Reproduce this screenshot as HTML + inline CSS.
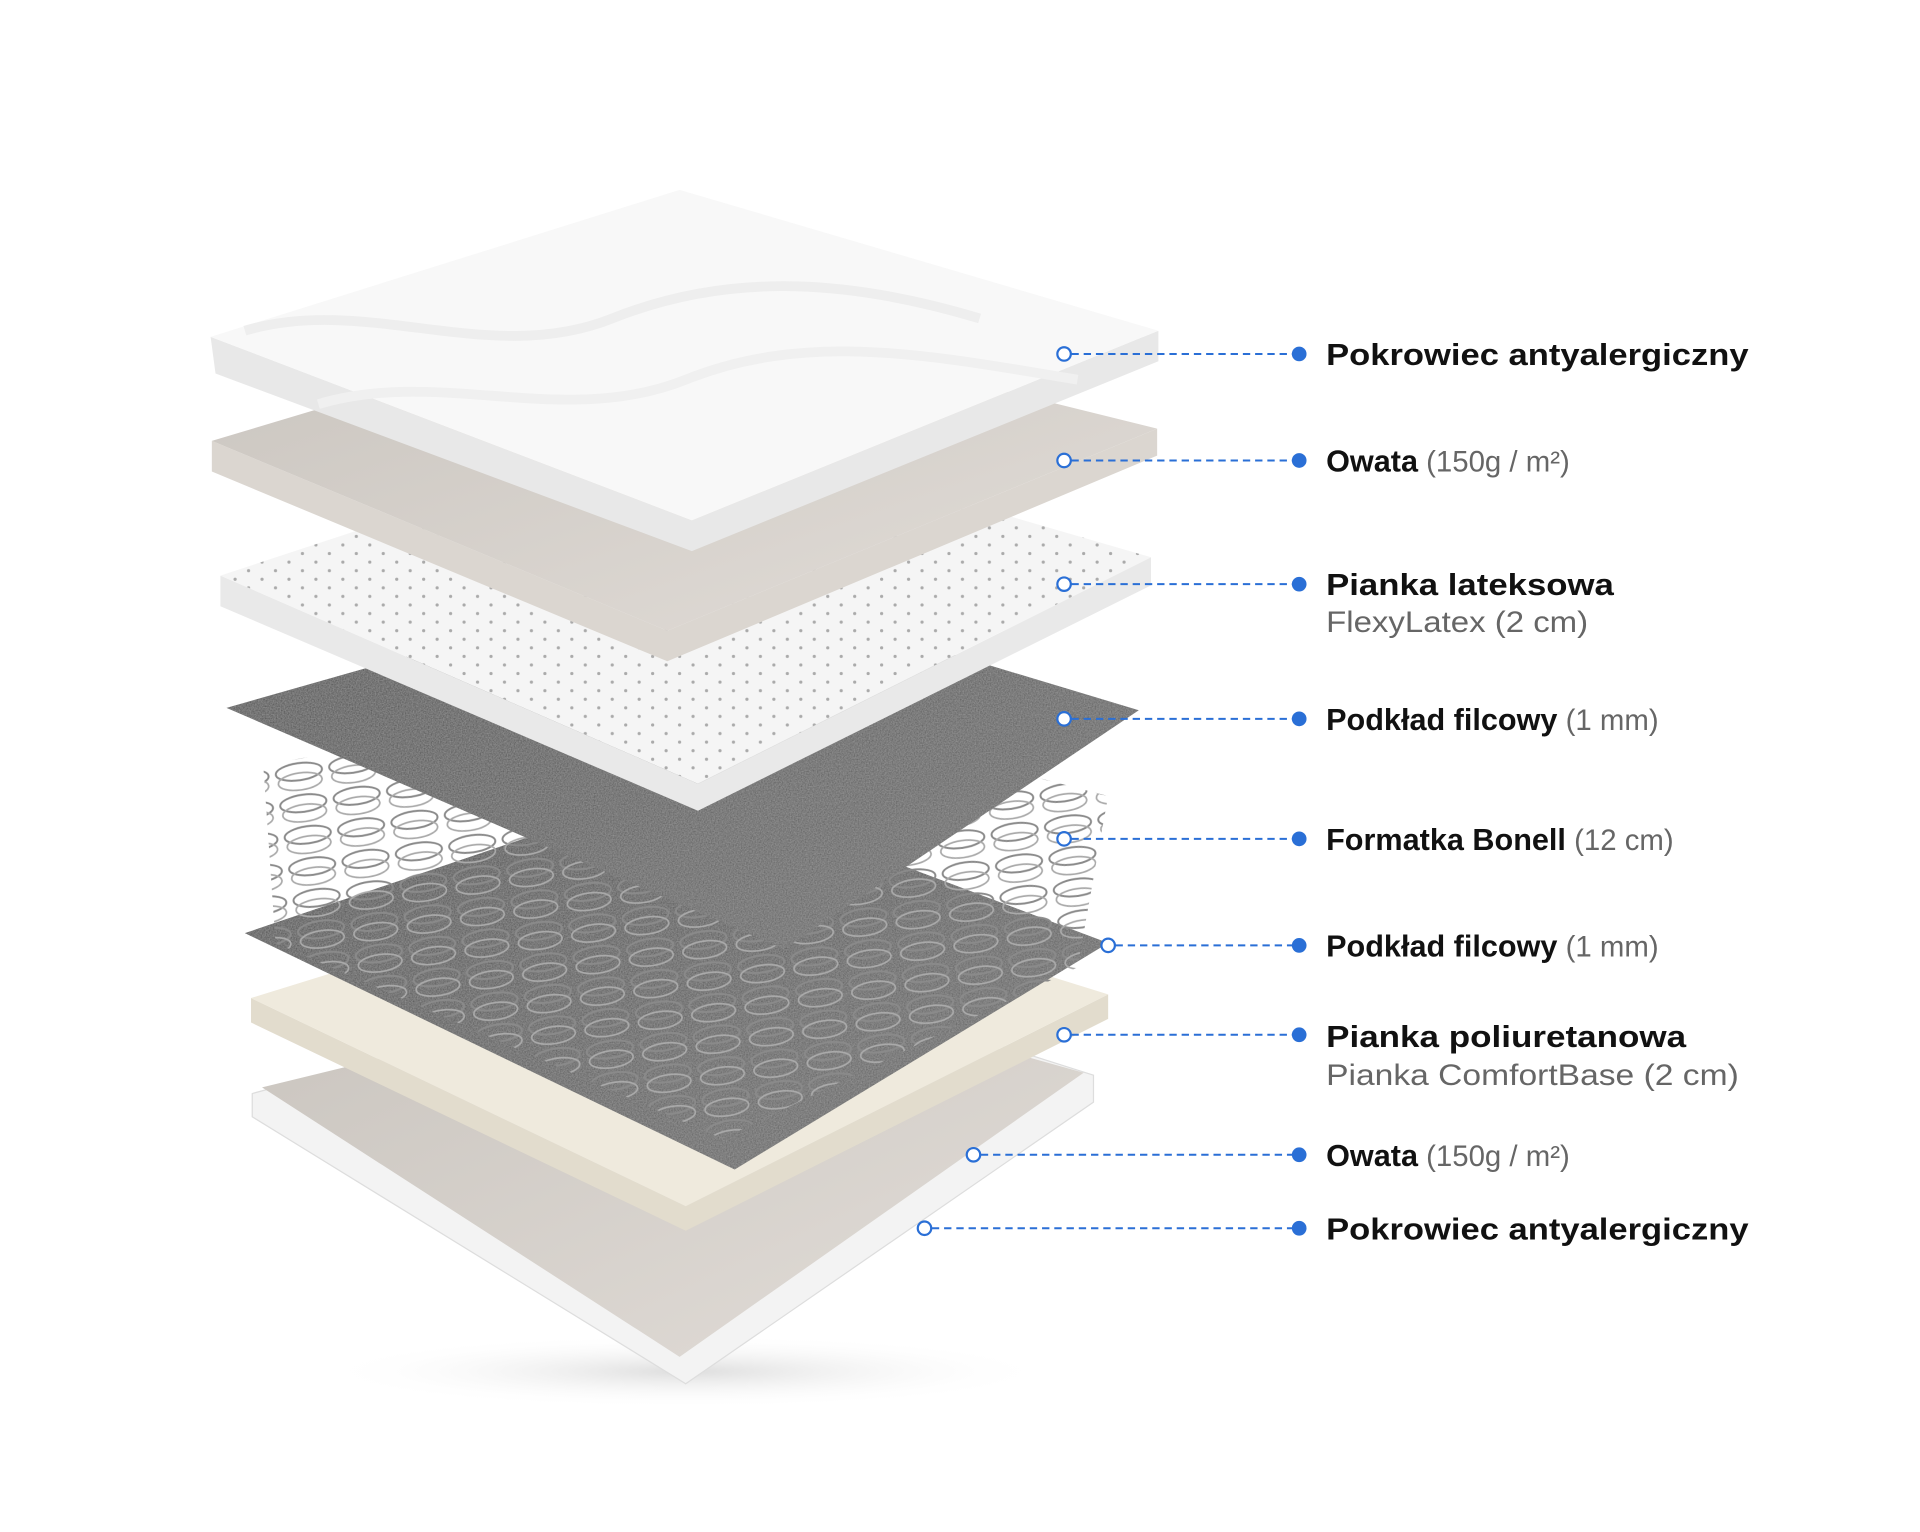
<!DOCTYPE html>
<html><head><meta charset="utf-8"><style>
html,body{margin:0;padding:0;background:#fff;}
svg{display:block;}
.b{font-family:"Liberation Sans",sans-serif;font-weight:bold;font-size:25px;fill:#111;}
.r{font-family:"Liberation Sans",sans-serif;font-size:24px;fill:#666;}
</style></head><body>
<svg width="1920" height="1532" viewBox="0 0 1568 1251" xmlns="http://www.w3.org/2000/svg">
<defs>
<pattern id="dots" width="22" height="14" patternUnits="userSpaceOnUse"><circle cx="5" cy="4" r="1.3" fill="#aaa"/><circle cx="16" cy="11" r="1.3" fill="#aaa"/></pattern>
<pattern id="coil" width="44" height="26" patternUnits="userSpaceOnUse" patternTransform="rotate(-8)">
<ellipse cx="22" cy="8" rx="19" ry="7" fill="none" stroke="#8a8a8a" stroke-width="1.6"/>
<ellipse cx="22" cy="16" rx="18" ry="7" fill="none" stroke="#aaa" stroke-width="1.4"/>
</pattern>
<linearGradient id="felt" x1="0" y1="0" x2="1" y2="1"><stop offset="0" stop-color="#555"/><stop offset="1" stop-color="#727272"/></linearGradient>
<linearGradient id="ow" x1="0" y1="0" x2="1" y2="1"><stop offset="0" stop-color="#c9c4be"/><stop offset="1" stop-color="#e2ddd8"/></linearGradient>
<radialGradient id="sh" cx="0.5" cy="0.5" r="0.5"><stop offset="0" stop-color="#ddd"/><stop offset="1" stop-color="#fff" stop-opacity="0"/></radialGradient>
<filter id="speck" x="0" y="0" width="1" height="1">
<feTurbulence type="fractalNoise" baseFrequency="0.9" numOctaves="2" result="n"/>
<feColorMatrix in="n" type="matrix" values="0 0 0 0 0.5  0 0 0 0 0.5  0 0 0 0 0.5  0 0 0 0.6 -0.1" result="m"/>
<feComposite in="m" in2="SourceGraphic" operator="in" result="c"/>
<feMerge><feMergeNode in="SourceGraphic"/><feMergeNode in="c"/></feMerge>
</filter>
</defs>
<rect width="1568" height="1251" fill="#fff"/>
<ellipse cx="560" cy="1120" rx="300" ry="30" fill="url(#sh)"/>
<!-- bottom cover -->
<polygon points="206,893 600,785 893,878 893,900 560,1130 206,912" fill="#f3f3f3" stroke="#ddd"/>
<polygon points="214,888 595,795 885,876 555,1108" fill="url(#ow)"/>
<!-- PU foam -->
<polygon points="205,835 560,1005 905,832 905,812 560,985 205,815" fill="#e2dccd"/>
<polygon points="205,815 560,705 905,812 560,985" fill="#efeadd"/>
<!-- lower felt -->
<polygon points="200,762 560,640 905,770 600,955" fill="url(#felt)" filter="url(#speck)"/>
<!-- springs -->
<polygon points="215,625 560,560 905,650 880,790 590,930 225,770" fill="url(#coil)"/>
<!-- upper felt -->
<polygon points="185,578 565,470 930,580 640,775" fill="url(#felt)" filter="url(#speck)"/>
<!-- latex -->
<polygon points="180,495 570,662 940,478 940,455 570,640 180,470" fill="#e9e9e9"/>
<polygon points="180,470 560,345 940,455 570,640" fill="#f5f5f5"/>
<polygon points="180,470 560,345 940,455 570,640" fill="url(#dots)"/>
<!-- owata -->
<polygon points="173,385 545,540 945,372 945,350 545,515 173,360" fill="#dbd6d0"/>
<polygon points="173,360 540,250 945,350 545,515" fill="url(#ow)"/>
<!-- top cover -->
<polygon points="176,305 565,450 946,295 946,270 565,425 172,275" fill="#e8e8e8"/>
<polygon points="172,275 555,155 946,270 565,425" fill="#f8f8f8"/>
<path d="M200,270 C300,240 400,300 500,260 S700,230 800,260" fill="none" stroke="#eeeeee" stroke-width="8"/>
<path d="M260,330 C360,300 460,350 560,310 S760,290 880,310" fill="none" stroke="#f0f0f0" stroke-width="8"/>
<!-- connectors -->
<g stroke="#2a6fd6" stroke-width="1.6" stroke-dasharray="6,4" fill="none">
<line x1="875" y1="289" x2="1060" y2="289"/>
<line x1="875" y1="376" x2="1060" y2="376"/>
<line x1="875" y1="477" x2="1060" y2="477"/>
<line x1="875" y1="587" x2="1060" y2="587"/>
<line x1="875" y1="685" x2="1060" y2="685"/>
<line x1="911" y1="772" x2="1060" y2="772"/>
<line x1="875" y1="845" x2="1060" y2="845"/>
<line x1="801" y1="943" x2="1060" y2="943"/>
<line x1="761" y1="1003" x2="1060" y2="1003"/>
</g>
<g fill="#fff" stroke="#2a6fd6" stroke-width="1.8">
<circle cx="869" cy="289" r="5.5"/><circle cx="869" cy="376" r="5.5"/><circle cx="869" cy="477" r="5.5"/>
<circle cx="869" cy="587" r="5.5"/><circle cx="869" cy="685" r="5.5"/><circle cx="905" cy="772" r="5.5"/>
<circle cx="869" cy="845" r="5.5"/><circle cx="795" cy="943" r="5.5"/><circle cx="755" cy="1003" r="5.5"/>
</g>
<g fill="#2a6fd6">
<circle cx="1061" cy="289" r="6"/><circle cx="1061" cy="376" r="6"/><circle cx="1061" cy="477" r="6"/>
<circle cx="1061" cy="587" r="6"/><circle cx="1061" cy="685" r="6"/><circle cx="1061" cy="772" r="6"/>
<circle cx="1061" cy="845" r="6"/><circle cx="1061" cy="943" r="6"/><circle cx="1061" cy="1003" r="6"/>
</g>
<text class="b" x="1083" y="298" textLength="345" lengthAdjust="spacingAndGlyphs">Pokrowiec antyalergiczny</text>
<text x="1083" y="385"><tspan class="b">Owata</tspan><tspan class="r"> (150g / m²)</tspan></text>
<text class="b" x="1083" y="486" textLength="235" lengthAdjust="spacingAndGlyphs">Pianka lateksowa</text>
<text class="r" x="1083" y="516" textLength="214" lengthAdjust="spacingAndGlyphs">FlexyLatex (2 cm)</text>
<text x="1083" y="596"><tspan class="b">Podkład filcowy</tspan><tspan class="r"> (1 mm)</tspan></text>
<text x="1083" y="694"><tspan class="b">Formatka Bonell</tspan><tspan class="r"> (12 cm)</tspan></text>
<text x="1083" y="781"><tspan class="b">Podkład filcowy</tspan><tspan class="r"> (1 mm)</tspan></text>
<text class="b" x="1083" y="855" textLength="294" lengthAdjust="spacingAndGlyphs">Pianka poliuretanowa</text>
<text class="r" x="1083" y="886" textLength="337" lengthAdjust="spacingAndGlyphs">Pianka ComfortBase (2 cm)</text>
<text x="1083" y="952"><tspan class="b">Owata</tspan><tspan class="r"> (150g / m²)</tspan></text>
<text class="b" x="1083" y="1012" textLength="345" lengthAdjust="spacingAndGlyphs">Pokrowiec antyalergiczny</text>
</svg>
</body></html>
